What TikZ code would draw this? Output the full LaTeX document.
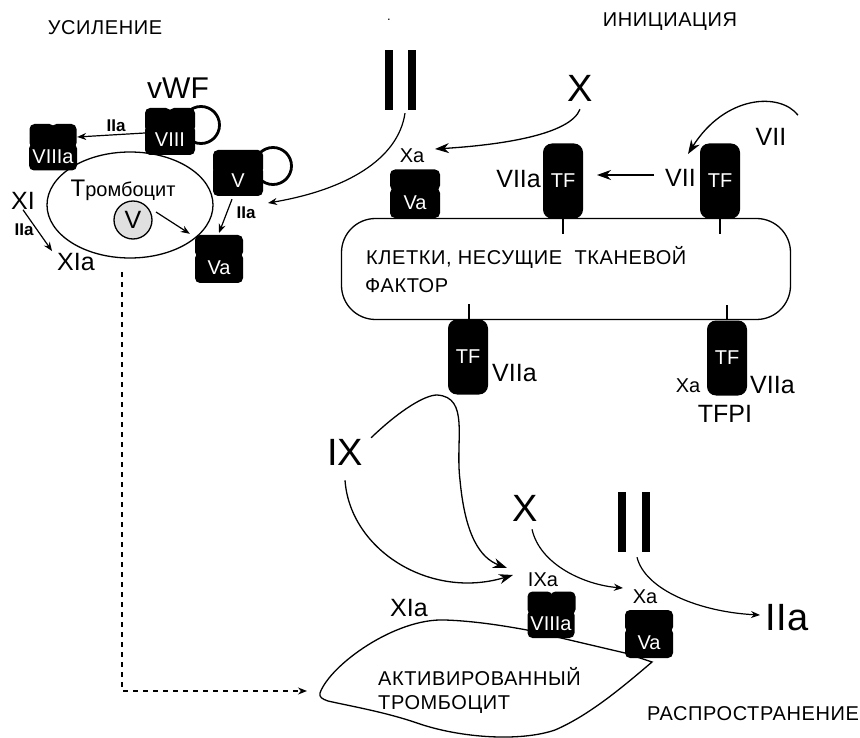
\documentclass[tikz,border=0pt]{standalone}
\usepackage{fontspec}
\setmainfont{Liberation Sans}
\usetikzlibrary{arrows.meta,calc,shapes.geometric}
\newcommand{\fsz}[1]{\fontsize{#1}{#1}\selectfont}
\tikzset{
	lab/.style={inner sep=0pt, font=\fsz{25}},
	smalllab/.style={inner sep=0pt, font=\fsz{20}},
	tinylab/.style={inner sep=0pt, font=\fsz{17}\bfseries},
	biglab/.style={inner sep=0pt, font=\fsz{38}},
	caps/.style={inner sep=0pt, font=\fsz{20}\addfontfeature{LetterSpace=3}},
	lobe/.style={fill=black, text=white, inner sep=0pt, rounded corners=5pt, font=\fsz{20}},
	tfbox/.style={lobe, rounded corners=9pt, minimum width=40pt, minimum height=75pt},
	flow/.style={line width=1.2pt, -{Stealth[length=9pt,width=7pt]}},
	bigflow/.style={line width=1.3pt, -{Stealth[length=14pt,width=10pt]}},
	bar/.style={fill=black, inner sep=0pt, minimum width=8pt, minimum height=60pt},
	stem/.style={line width=2.5pt},
}
\begin{document}
\begin{tikzpicture}[x=1pt, y=-1pt]
	\useasboundingbox (0,0) rectangle (860,738);
	\fill[white] (0,0) rectangle (860,738);

	% Titles
	\node[caps] (Amplify) at (105,28) {УСИЛЕНИЕ};
	\node[caps] (Initiate) at (670,22) {ИНИЦИАЦИЯ};
	\node[caps] (Spread) at (753,714) {РАСПРОСТРАНЕНИЕ};
	\node[inner sep=0pt, font=\fsz{13}] (Speck) at (389,20) {.};

	% Platelet
	\node[draw, ellipse, line width=1.3pt, minimum width=166pt, minimum height=106pt, inner sep=0pt] (Platelet) at (130,205) {};
	\node[inner sep=0pt, font=\fsz{20}] (PlateletText) at (123,190) {{\fsz{24}Т}ромбоцит};
	\node[draw, circle, line width=1.3pt, fill=black!12, minimum size=38pt, inner sep=0pt, font=\fsz{25}] (GranuleV) at (133,220) {V};

	% Tissue factor cell
	\node[draw, line width=1.3pt, rounded corners=34pt, minimum width=449pt, minimum height=101pt, inner sep=0pt] (Cell) at (566,269) {};
	\node[caps, anchor=west] (CellOne) at (366,257) {КЛЕТКИ, НЕСУЩИЕ\ \ ТКАНЕВОЙ};
	\node[caps, anchor=west] (CellTwo) at (365,286) {ФАКТОР};

	% Activated platelet
	\draw[line width=1.3pt] (320,693) .. controls (330,665) and (395,618) .. (445,620)
		.. controls (475,621) and (505,626) .. (527,630) -- (625,653) -- (652,662)
		.. controls (625,685) and (590,715) .. (555,730)
		.. controls (520,742) and (460,738) .. (417,723)
		.. controls (385,712) and (350,706) .. (328,701) .. controls (322,699) and (319,697) .. (320,693);
	\node[caps, anchor=west] (ActiveOne) at (378,677) {АКТИВИРОВАННЫЙ};
	\node[caps, anchor=west] (ActiveTwo) at (378,705) {ТРОМБОЦИТ};

	% VIII with vWF
	\node[draw, line width=2.8pt, circle, minimum size=37pt, inner sep=0pt] (LoopVIII) at (201,125) {};
	\node[lobe, minimum width=26pt, minimum height=24pt] at (158,120) {};
	\node[lobe, minimum width=26pt, minimum height=24pt] at (182,120) {};
	\node[lobe, minimum width=50pt, minimum height=30pt] (VIII) at (170,140) {VIII};
	\node[inner sep=0pt, font=\fsz{30}] (vWF) at (178,88) {vWF};

	% VIIIa
	\node[lobe, minimum width=25pt, minimum height=24pt] at (42,136) {};
	\node[lobe, minimum width=25pt, minimum height=24pt] at (64,136) {};
	\node[lobe, minimum width=48pt, minimum height=27pt] (VIIIa) at (53,157) {VIIIa};

	% V
	\node[draw, line width=2.8pt, circle, minimum size=37pt, inner sep=0pt] (LoopV) at (273,166) {};
	\node[lobe, minimum width=50pt, minimum height=24pt] (VTop) at (238,162) {};
	\node[lobe, minimum width=50pt, minimum height=30pt] (VLow) at (238,181) {V};

	% Va on platelet
	\node[lobe, minimum width=48pt, minimum height=22pt] (VaTop) at (219,246) {};
	\node[lobe, minimum width=48pt, minimum height=30pt] (Va) at (219,268) {Va};

	% Labels around platelet
	\node[lab] (XI) at (23,201) {XI};
	\node[lab] (XIa) at (76,262) {XIa};
	\node[tinylab] (IIaXI) at (24,230) {IIa};
	\node[tinylab] (IIaVIII) at (116,126) {IIa};
	\node[tinylab] (IIaV) at (246,213) {IIa};

	\draw[flow] (VIII.west |- 0,133) -- (VIIIa.east |- 0,137);
	\draw[flow] (XI.south) -- ([shift={(-5,-2)}]XIa.north west);
	\draw[flow] (GranuleV) ++(23,-8) -- ([shift={(-5,-1)}]VaTop.north west);
	\draw[flow] (VLow.south) ++(-6,3) -- (VaTop.north |- 0,233);

	% Top centre
	\node[bar] (IIoneA) at (389,80) {};
	\node[bar] (IIoneB) at (412,80) {};
	\node[biglab] (XTop) at (580,88) {X};
	\node[smalllab] (XaTop) at (412,156) {Xa};
	\node[lobe, minimum width=50pt, minimum height=21pt] (VaTwoTop) at (415,180) {};
	\node[lobe, minimum width=50pt, minimum height=30pt] (VaTwo) at (415,203) {Va};

	% TF on the cell, upper
	\node[tfbox] (TFone) at (563,181) {TF};
	\node[tfbox] (TFtwo) at (720,181) {TF};
	\draw[stem] (TFone.south) -- ++(0,15);
	\draw[stem] (TFtwo.south) -- ++(0,15);
	\node[lab, anchor=east] (VIIaOne) at (541,179) {VIIa};
	\node[lab, anchor=east] (VIIone) at (696,178) {VII};
	\node[lab] (VIItwo) at (771,137) {VII};
	\draw[bigflow, line width=1.6pt] (VIIone.west) ++(-11,-3) -- (597,175);

	\draw[flow] (IIoneB.south) ++(-7,3) .. controls (398,160) and (345,190) .. (268,203);
	\draw[bigflow] (XTop.south) ++(0,8) .. controls (570,135) and (500,145) .. (435,149);
	\draw[bigflow] (VIItwo.north) ++(27,-13) .. controls (780,92) and (725,95) .. (688,154);

	% TF on the cell, lower
	\node[tfbox] (TFthree) at (468,357) {TF};
	\node[tfbox] (TFfour) at (727,358) {TF};
	\draw[stem] (TFthree.north) ++(1,0) -- ++(0,-15);
	\draw[stem] (TFfour.north) -- ++(0,-15);
	\node[lab, anchor=west] (VIIaThree) at (492,373) {VIIa};
	\node[lab, anchor=west] (VIIaFour) at (750,385) {VIIa};
	\node[smalllab] (XaFour) at (688,386) {Xa};
	\node[lab] (TFPI) at (725,414) {TFPI};

	% Bottom
	\node[inner sep=0pt, font=\fsz{38}] (IX) at (345,452) {IX};
	\node[biglab] (XLow) at (525,508) {X};
	\node[bar] (IItwoA) at (622,522) {};
	\node[bar] (IItwoB) at (646,522) {};
	\node[inner sep=0pt, font=\fsz{38}] (IIa) at (787,618) {IIa};
	\node[lab] (XIaLow) at (409,608) {XIa};
	\node[smalllab] (IXa) at (543,580) {IXa};
	\node[smalllab] (XaLow) at (645,597) {Xa};

	\node[lobe, minimum width=25pt, minimum height=23pt] at (540,603) {};
	\node[lobe, minimum width=25pt, minimum height=23pt] at (563,603) {};
	\node[lobe, minimum width=47pt, minimum height=28pt] (VIIIaLow) at (551,624) {VIIIa};
	\node[lobe, minimum width=48pt, minimum height=22pt] (VaLowTop) at (649,621) {};
	\node[lobe, minimum width=48pt, minimum height=30pt] (VaLow) at (649,643) {Va};

	\draw[bigflow] (IX.north east) ++(8,-1) .. controls (400,410) and (425,395) .. (437,395)
		.. controls (470,397) and (455,440) .. (460,480)
		.. controls (465,535) and (480,558) .. (507,568);
	\draw[bigflow] (IX.south) ++(0,15) .. controls (350,550) and (430,600) .. (513,575);
	\draw[flow] (XLow.south) ++(7,8) .. controls (540,565) and (585,585) .. (623,588);
	\draw[flow] (IItwoB.south) ++(-9,5) .. controls (645,590) and (700,612) .. (760,615);

	% Dashed link
	\coordinate (DashStart) at (122,272);
	\coordinate (DashCorner) at (122,691);
	\draw[dash pattern=on 5pt off 5pt, line width=1.4pt, -{Stealth[length=9pt,width=7pt]}] (DashStart) -- (DashCorner) -- (307,691);
\end{tikzpicture}
\end{document}
